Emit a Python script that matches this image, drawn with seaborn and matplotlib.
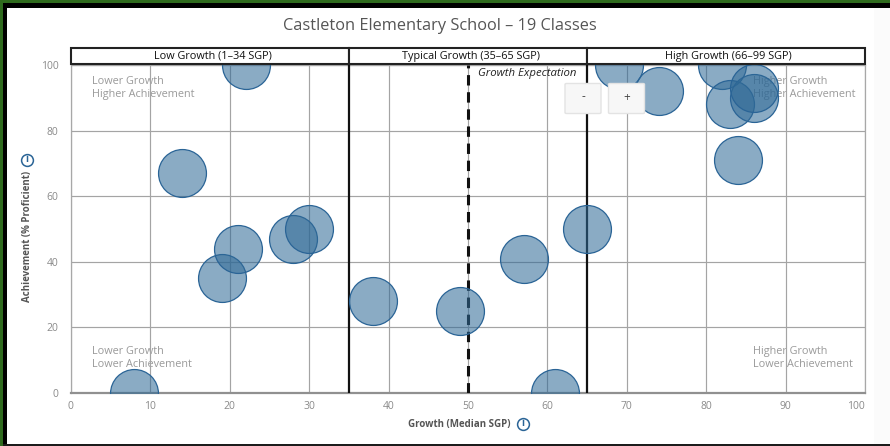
import matplotlib
matplotlib.use("Agg")
import matplotlib.pyplot as plt
import pandas as pd
import seaborn as sns
from matplotlib.patches import Rectangle, FancyBboxPatch

growth = [22, 14, 19, 21, 28, 30, 8, 38, 49, 57, 65, 61, 69, 74, 82, 83, 84, 86, 86]
achievement = [100, 67, 35, 44, 47, 50, 0, 28, 25, 41, 50, 0, 100, 92, 100, 88, 71, 90, 93]
x_ticks = [0, 10, 20, 30, 40, 50, 60, 70, 80, 90, 100]
y_ticks = [0, 20, 40, 60, 80, 100]
band_edges = [0, 35, 65, 100]
band_labels = ["Low Growth (1\u201334 SGP)", "Typical Growth (35\u201365 SGP)", "High Growth (66\u201399 SGP)"]
title = "Castleton Elementary School \u2013 19 Classes"
quadrants = ["Lower Growth\nHigher Achievement", "Higher Growth\nHigher Achievement",
             "Lower Growth\nLower Achievement", "Higher Growth\nLower Achievement"]

W, H = 890, 446
sns.set_theme(style="white")
plt.rcParams["font.family"] = ["Open Sans", "DejaVu Sans"]

fig = plt.figure(figsize=(W / 100, H / 100), dpi=100, facecolor="white")
L, R, T, B = 70.8, 865.2, 65, 393
ax = fig.add_axes([L / W, 1 - B / H, (R - L) / W, (B - T) / H])
ax.patch.set_alpha(0)


def px_rect(x0, y0, x1, y1, color, z=-5):
    fig.add_artist(Rectangle((x0 / W, 1 - y1 / H), (x1 - x0) / W, (y1 - y0) / H,
                             transform=fig.transFigure, facecolor=color, edgecolor="none", zorder=z))


# page frame
px_rect(874, 0, 890, 446, "#fbfbfb")
px_rect(0, 0, 890, 8, "#000000")
px_rect(0, 0, 7, 446, "#000000")
px_rect(0, 444, 890, 446, "#1c1c1c")
px_rect(0, 0, 890, 2.5, "#2f6b1e")
px_rect(0, 0, 2.5, 446, "#2f6b1e")

df = pd.DataFrame({"growth": growth, "achievement": achievement})
sns.scatterplot(data=df, x="growth", y="achievement", s=1190, ax=ax, zorder=4, legend=False, clip_on=True)
coll = ax.collections[0]
coll.set_facecolor((47 / 255, 105 / 255, 150 / 255, 0.56))
coll.set_edgecolor("#2a6496")
coll.set_linewidth(0.9)

ax.set_xlim(0, 100)
ax.set_ylim(0, 100)
ax.set_xticks(x_ticks)
ax.set_yticks(y_ticks)
ax.grid(True, color="#a4a4a4", linewidth=0.85, zorder=1)
ax.set_axisbelow(True)
ax.set_xlabel("")
ax.set_ylabel("")
for s in ["top", "right", "left"]:
    ax.spines[s].set_color("#a8a8a8")
    ax.spines[s].set_linewidth(0.9)
ax.spines["bottom"].set_color("#909090")
ax.spines["bottom"].set_linewidth(1.6)
ax.tick_params(axis="x", length=7, width=0.7, color="#ccd6eb", labelsize=7.5, labelcolor="#8a8a8a", pad=-1)
ax.tick_params(axis="y", length=0, labelsize=7.5, labelcolor="#8a8a8a", pad=9)
ax.get_xticklabels()[-1].set_ha("right")

for v in band_edges[1:-1]:
    ax.axvline(v, color="#111111", linewidth=1.6, zorder=3)
ax.plot([50, 50], [0, 100], color="#111111", linewidth=2.2, linestyle=(0, (3.4, 2.2)), zorder=3)
ax.text(51.2, 97.3, "Growth Expectation", style="italic", fontsize=8.2, color="#222222", va="center", zorder=6)

# growth band headers
trans = ax.get_xaxis_transform()
for x0, x1, lab in zip(band_edges[:-1], band_edges[1:], band_labels):
    ax.add_patch(Rectangle((x0, 1 + 1.5 / 328), x1 - x0, 15.5 / 328, transform=trans, clip_on=False,
                           facecolor="white", edgecolor="#222222", linewidth=1.5, zorder=7))
    ax.text((x0 + x1) / 2 + 0.33, 1 + 8.5 / 328, lab, transform=trans, ha="center", va="center",
            fontsize=7.8, color="#111111", zorder=8)

# quadrant captions
for (px, py), q in zip([(92, 88), (753, 88), (92, 358), (753, 358)], quadrants):
    fig.text(px / W, 1 - py / H, q, fontsize=7.8, color="#9a9a9a", va="center", ha="left",
             linespacing=1.2, zorder=-1)

# zoom buttons
for x0, lab in zip([565, 608.5], ["-", "+"]):
    fig.add_artist(FancyBboxPatch((x0 / W, 1 - 113.5 / H), 36 / W, 30 / H,
                                  boxstyle="round,pad=0,rounding_size=0.002", transform=fig.transFigure,
                                  facecolor="#f7f7f7", edgecolor="#e3e3e3", linewidth=1.0, zorder=10))
    fig.text((x0 + 18) / W, 1 - 97 / H, lab, ha="center", va="center", fontsize=8.5, color="#444444", zorder=11)

fig.text(440 / W, 1 - 26 / H, title, ha="center", va="center", fontsize=11.8, color="#555555")
fig.text(459.5 / W, 1 - 424 / H, "Growth (Median SGP)", ha="center", va="center",
         fontsize=7, color="#555555", fontweight="bold")
fig.text(27.5 / W, 1 - 236 / H, "Achievement (% Proficient)", ha="center", va="center", rotation=90,
         fontsize=7, color="#555555", fontweight="bold")

# info icons
for cx, cy in [(522.5, 424), (27, 159.5)]:
    fig.add_artist(plt.Line2D([cx / W], [1 - cy / H], marker="o", markersize=8.5, markerfacecolor="white",
                              markeredgecolor="#2a6496", markeredgewidth=1.1, transform=fig.transFigure, zorder=3))
    fig.text(cx / W, 1 - cy / H, "i", ha="center", va="center", fontsize=7, fontweight="bold",
             color="#2a6496", zorder=4)

fig.savefig("out.png", dpi=100, facecolor="white")
